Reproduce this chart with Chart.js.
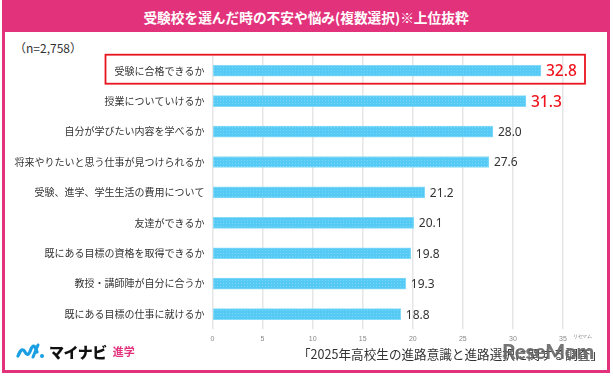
<!DOCTYPE html>
<html lang="ja">
<head>
<meta charset="utf-8">
<script src="https://cdn.jsdelivr.net/npm/chart.js@4.4.1/dist/chart.umd.min.js"></script>
<style>
  html, body { margin: 0; padding: 0; background: #fff; }
  body { width: 613px; height: 376px; position: relative; overflow: hidden;
         font-family: "Noto Sans CJK JP", "Noto Sans", sans-serif; }
  #frame { position: absolute; left: 2px; top: 0; width: 602px; height: 370px;
           border: 3px solid #e3327c; border-top: none; }
  #header { position: absolute; left: 2px; top: 0; width: 608px; height: 32px; background: #e3327c;
            color: #fff; font-weight: bold; font-size: 13.7px; line-height: 34px; text-align: center; }
  #n { position: absolute; left: 14px; top: 39px; font-size: 12px; color: #333; }
  #chart { position: absolute; left: 0; top: 0; }
  #logo { position: absolute; left: 16px; top: 341px; height: 20px; display: flex; align-items: center; }
  #logo .mn { font-weight: 900; font-size: 15px; color: #111; margin-left: 3px; letter-spacing: -0.5px; }
  #logo .sg { font-weight: bold; font-size: 11px; color: #e3327c; margin-left: 6px; }
  #source { position: absolute; right: 10px; top: 344px; font-size: 12.6px; color: #333; white-space: nowrap; }
  #mark { position: absolute; left: 502px; top: 338px; font-family: "Lato", "DejaVu Sans", sans-serif; font-weight: 900;
          font-size: 21px; color: rgba(105,105,105,0.92); letter-spacing: -0.3px; }
  #mark small { position: absolute; right: 2px; top: -5px; font-size: 5px; font-weight: normal; color: #777; }
</style>
</head>
<body>
<div id="frame"></div>
<div id="header">受験校を選んだ時の不安や悩み(複数選択)※上位抜粋</div>
<div id="n">（n=2,758）</div>
<canvas id="chart" width="613" height="376"></canvas>
<div id="logo">
  <svg width="30" height="16" viewBox="0 0 30 16">
    <path d="M2 13 Q6 3 9 9 Q12 15 15 6 Q18 -1 21 9" fill="none" stroke="#1b9fe3" stroke-width="3.2" stroke-linecap="round"/>
    <path d="M22 2 L17 14" stroke="#1b9fe3" stroke-width="3" stroke-linecap="round"/>
    <circle cx="26" cy="13" r="2" fill="#1b9fe3"/>
  </svg>
  <span class="mn">マイナビ</span><span class="sg">進学</span>
</div>
<div id="source">「2025年高校生の進路意識と進路選択に関する調査」</div>
<div id="mark">ReseMom<small>リセマム</small></div>
<script>
const categories = [
    '受験に合格できるか',
    '授業についていけるか',
    '自分が学びたい内容を学べるか',
    '将来やりたいと思う仕事が見つけられるか',
    '受験、進学、学生生活の費用について',
    '友達ができるか',
    '既にある目標の資格を取得できるか',
    '教授・講師陣が自分に合うか',
    '既にある目標の仕事に就けるか'
];
const values = [32.8, 31.3, 28.0, 27.6, 21.2, 20.1, 19.8, 19.3, 18.8];
const highlighted = [0, 1];
const axisMax = 35;

// dotted blue fill
function makePattern() {
    const c = document.createElement('canvas');
    c.width = 3; c.height = 3;
    const g = c.getContext('2d');
    g.fillStyle = '#55caf5';
    g.fillRect(0, 0, 3, 3);
    g.fillStyle = 'rgba(255,255,255,0.22)';
    g.fillRect(1, 1, 1, 1);
    return g.createPattern(c, 'repeat');
}

const valueLabels = {
    id: 'valueLabels',
    afterDatasetsDraw(chart) {
        const ctx = chart.ctx;
        const meta = chart.getDatasetMeta(0);
        ctx.save();
        ctx.textBaseline = 'middle';
        ctx.textAlign = 'left';
        meta.data.forEach((bar, i) => {
            const hot = highlighted.includes(i);
            ctx.fillStyle = hot ? '#f0141e' : '#333';
            ctx.font = (hot ? '500 15.5px' : '12px') + ' "Noto Sans", sans-serif';
            ctx.fillText(values[i].toFixed(1), bar.x + 5, bar.y + 1);
        });
        // red box round the first row
        const y0 = chart.scales.y.getPixelForValue(0);
        const left = chart.chartArea.left - 107;
        const right = chart.scales.x.getPixelForValue(axisMax) + 22;
        ctx.strokeStyle = '#e8141e';
        ctx.lineWidth = 1.8;
        ctx.strokeRect(left, y0 - 16, right - left, 29);
        ctx.restore();
    }
};

const ctx = document.getElementById('chart').getContext('2d');
const chart = new Chart(ctx, {
    type: 'bar',
    data: {
        labels: categories,
        datasets: [{
            data: values,
            backgroundColor: makePattern(),
            borderColor: '#86dbf8',
            borderWidth: 1,
            borderSkipped: false,
            barThickness: 11
        }]
    },
    options: {
        indexAxis: 'y',
        responsive: false,
        animation: false,
        devicePixelRatio: 1,
        layout: { padding: { left: 0, right: 50, top: 55.5, bottom: 0 } },
        scales: {
            x: {
                min: 0,
                max: axisMax,
                ticks: { stepSize: 5, padding: 6, color: '#888', font: { size: 7 } },
                grid: { color: '#e6e6e6', lineWidth: 1.5, drawTicks: false },
                border: { display: false },
                afterFit: (s) => { s.height = 46.7; }
            },
            y: {
                ticks: { padding: 8, color: '#333', font: { size: 10, family: '"Noto Sans CJK JP", sans-serif' } },
                grid: { display: false, drawTicks: false },
                border: { display: false },
                afterFit: (s) => { s.width = 212.5; }
            }
        },
        plugins: {
            legend: { display: false },
            tooltip: { enabled: false }
        }
    },
    plugins: [valueLabels]
});
</script>
</body>
</html>
